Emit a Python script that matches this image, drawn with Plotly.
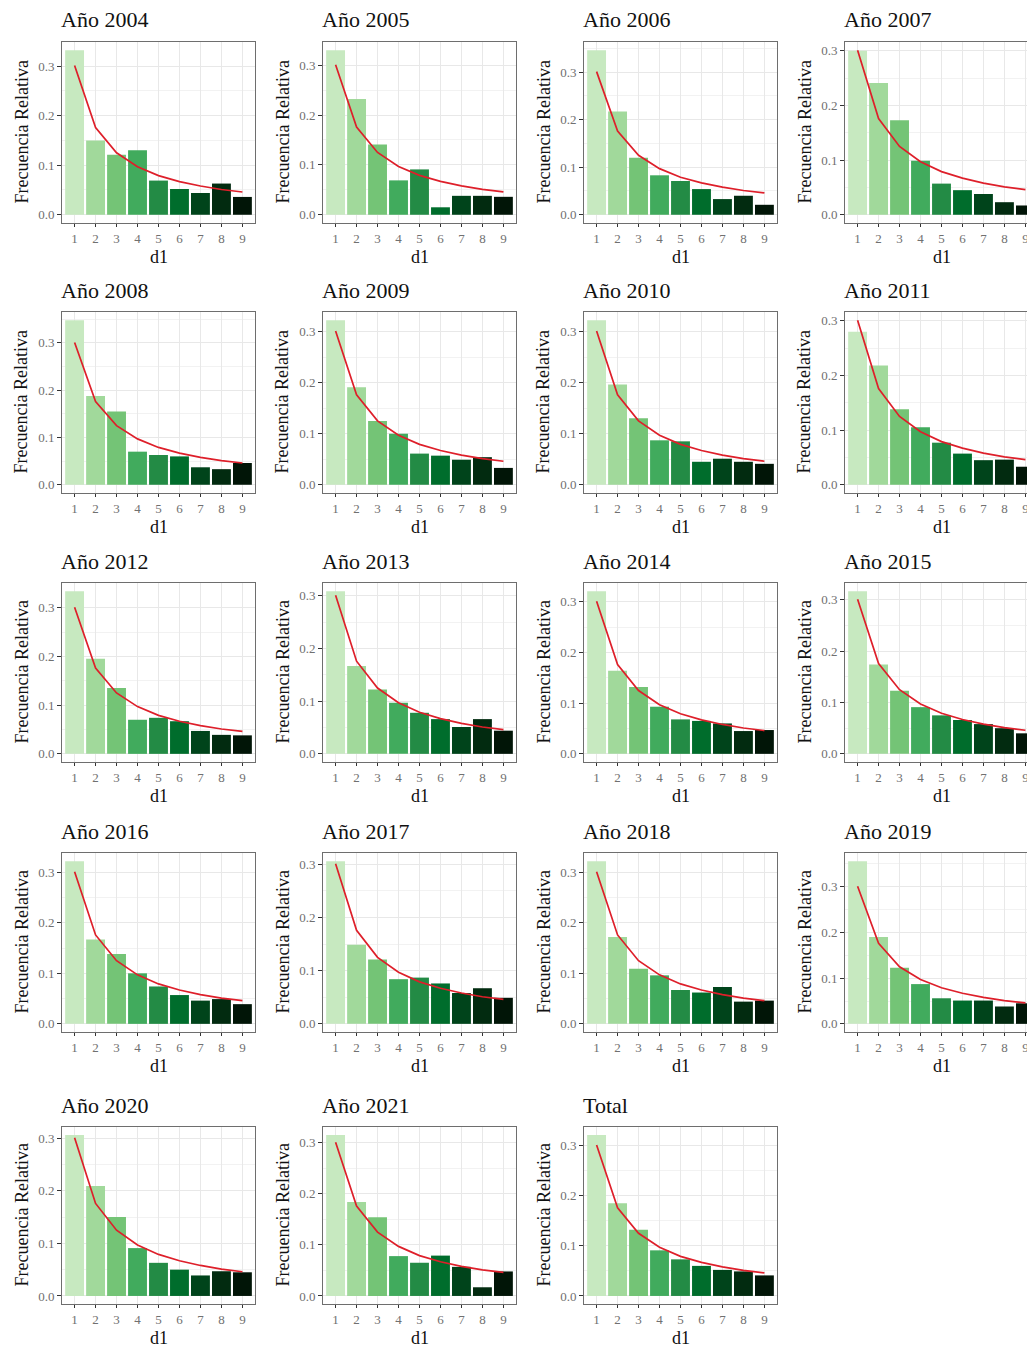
import plotly.graph_objects as go

# ---------------- data ----------------
digits = [1, 2, 3, 4, 5, 6, 7, 8, 9]
tick_labels = ["1", "2", "3", "4", "5", "6", "7", "8", "9"]
benford = [0.301, 0.176, 0.125, 0.097, 0.079, 0.067, 0.058, 0.051, 0.046]

panel_titles = ["Año 2004", "Año 2005", "Año 2006", "Año 2007",
                "Año 2008", "Año 2009", "Año 2010", "Año 2011",
                "Año 2012", "Año 2013", "Año 2014", "Año 2015",
                "Año 2016", "Año 2017", "Año 2018", "Año 2019",
                "Año 2020", "Año 2021", "Total"]

freq_2004 = [0.332, 0.150, 0.121, 0.130, 0.069, 0.052, 0.044, 0.063, 0.036]
freq_2005 = [0.330, 0.232, 0.141, 0.069, 0.091, 0.015, 0.038, 0.038, 0.036]
freq_2006 = [0.346, 0.217, 0.120, 0.083, 0.071, 0.054, 0.033, 0.040, 0.021]
freq_2007 = [0.300, 0.241, 0.173, 0.099, 0.057, 0.045, 0.038, 0.023, 0.017]
freq_2008 = [0.348, 0.188, 0.155, 0.070, 0.063, 0.060, 0.037, 0.033, 0.046]
freq_2009 = [0.322, 0.191, 0.125, 0.100, 0.061, 0.057, 0.049, 0.054, 0.033]
freq_2010 = [0.322, 0.196, 0.130, 0.087, 0.085, 0.045, 0.051, 0.045, 0.041]
freq_2011 = [0.280, 0.218, 0.138, 0.105, 0.077, 0.057, 0.045, 0.046, 0.033]
freq_2012 = [0.334, 0.195, 0.135, 0.070, 0.074, 0.067, 0.047, 0.039, 0.038]
freq_2013 = [0.309, 0.167, 0.122, 0.097, 0.078, 0.066, 0.051, 0.066, 0.044]
freq_2014 = [0.321, 0.164, 0.132, 0.093, 0.068, 0.065, 0.060, 0.045, 0.047]
freq_2015 = [0.317, 0.174, 0.123, 0.091, 0.075, 0.066, 0.058, 0.050, 0.040]
freq_2016 = [0.322, 0.167, 0.138, 0.100, 0.074, 0.057, 0.046, 0.049, 0.039]
freq_2017 = [0.306, 0.149, 0.121, 0.084, 0.087, 0.076, 0.058, 0.067, 0.049]
freq_2018 = [0.322, 0.172, 0.109, 0.096, 0.067, 0.062, 0.073, 0.044, 0.046]
freq_2019 = [0.356, 0.190, 0.123, 0.087, 0.056, 0.051, 0.051, 0.038, 0.045]
freq_2020 = [0.306, 0.209, 0.150, 0.091, 0.063, 0.050, 0.039, 0.047, 0.045]
freq_2021 = [0.315, 0.184, 0.154, 0.078, 0.065, 0.079, 0.057, 0.017, 0.048]
freq_total = [0.321, 0.185, 0.132, 0.091, 0.073, 0.060, 0.052, 0.049, 0.041]

panel_values = [freq_2004, freq_2005, freq_2006, freq_2007,
                freq_2008, freq_2009, freq_2010, freq_2011,
                freq_2012, freq_2013, freq_2014, freq_2015,
                freq_2016, freq_2017, freq_2018, freq_2019,
                freq_2020, freq_2021, freq_total]

bar_colors = ["#C7E9C0", "#A1D99B", "#74C476", "#41AB5D", "#238B45",
              "#006D2C", "#00441B", "#022B10", "#011507"]

# ---------------- layout geometry (pixels, page coords) ----------------
PAGE_W, PAGE_H = 1035, 1351
OFF = 8                      # default body margin of the html page
W, H = PAGE_W - OFF, PAGE_H - OFF
col_left = [62, 323, 584, 845]
plot_w = 193
unit_px = plot_w / 9.2
row_top = [42, 312, 583, 853, 1127]
row_bottom = [223, 493, 762, 1032, 1304]

FONT = "Liberation Serif"


def px_x(p):
    return (p - OFF) / W


def px_y(p):
    return 1 - (p - OFF) / H


fig = go.Figure()
layout = dict(
    width=W, height=H,
    margin=dict(l=0, r=0, t=0, b=0),
    paper_bgcolor="white", plot_bgcolor="white",
    showlegend=False,
    font=dict(family=FONT),
)
annotations = []

for i, (title, vals) in enumerate(zip(panel_titles, panel_values)):
    r, c = divmod(i, 4)
    k = i + 1
    xs = "" if k == 1 else str(k)
    left_px = col_left[c]
    right_px = min(left_px + plot_w, PAGE_W)
    top_px, bot_px = row_top[r], row_bottom[r]
    xdom = [px_x(left_px), min(px_x(right_px), 1.0)]
    ydom = [px_y(bot_px), px_y(top_px)]
    xr = [0.4, 0.4 + (right_px - left_px) / unit_px]
    m = max(max(vals), max(benford))
    yr = [-0.05 * m, 1.05 * m]

    fig.add_trace(go.Bar(
        x=digits, y=vals, width=0.9,
        marker=dict(color=bar_colors, line=dict(width=0)),
        xaxis="x" + xs, yaxis="y" + xs, hoverinfo="x+y",
    ))
    fig.add_trace(go.Scatter(
        x=digits, y=benford, mode="lines",
        line=dict(color="#DE1F2A", width=1.7),
        xaxis="x" + xs, yaxis="y" + xs,
    ))

    layout["xaxis" + xs] = dict(
        domain=xdom, range=xr, anchor="y" + xs,
        tickvals=digits, ticktext=tick_labels,
        ticks="outside", ticklen=3, tickcolor="#333333", tickwidth=1,
        showline=True, mirror=True, linecolor="#6E6E6E", linewidth=1,
        showgrid=True, gridcolor="#E8E8E8", gridwidth=1,
        zeroline=False, fixedrange=True,
        tickfont=dict(family=FONT, size=13, color="#707070"),
    )
    layout["yaxis" + xs] = dict(
        domain=ydom, range=yr, anchor="x" + xs,
        tickvals=[0, 0.1, 0.2, 0.3], ticktext=["0.0", "0.1", "0.2", "0.3"],
        ticks="outside", ticklen=4, tickcolor="#333333", tickwidth=1,
        showline=True, mirror=True, linecolor="#6E6E6E", linewidth=1,
        showgrid=True, gridcolor="#E8E8E8", gridwidth=1,
        minor=dict(tickvals=[0.05, 0.15, 0.25, 0.35], showgrid=True,
                   gridcolor="#F2F2F2", gridwidth=0.6, ticks=""),
        zeroline=False, fixedrange=True,
        tickfont=dict(family=FONT, size=13, color="#707070"),
    )

    # panel title
    annotations.append(dict(
        text=title, x=px_x(left_px - 3), y=px_y(top_px - 22),
        xref="paper", yref="paper", xanchor="left", yanchor="middle",
        showarrow=False, font=dict(family=FONT, size=22, color="#111111"),
    ))
    # y axis title
    annotations.append(dict(
        text="Frecuencia Relativa", x=px_x(left_px - 41),
        y=px_y((top_px + bot_px) / 2),
        xref="paper", yref="paper", xanchor="center", yanchor="middle",
        textangle=-90, showarrow=False,
        font=dict(family=FONT, size=18, color="#111111"),
    ))
    # x axis title
    annotations.append(dict(
        text="d1", x=px_x(left_px + plot_w / 2), y=px_y(bot_px + 34),
        xref="paper", yref="paper", xanchor="center", yanchor="middle",
        showarrow=False, font=dict(family=FONT, size=18, color="#111111"),
    ))

layout["annotations"] = annotations
fig.update_layout(**layout)
fig.write_html("out.html")
